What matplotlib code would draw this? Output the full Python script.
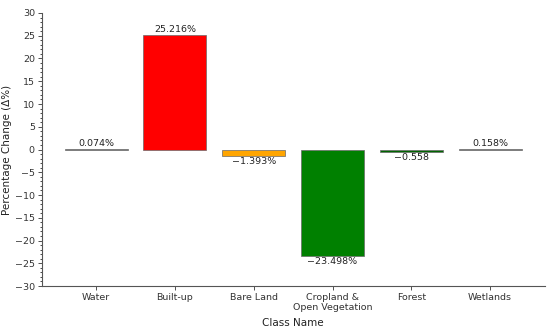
import matplotlib.pyplot as plt
from matplotlib.ticker import MultipleLocator

# Land cover classes and their percentage change
classes = ["Water", "Built-up", "Bare Land", "Cropland &\nOpen Vegetation", "Forest", "Wetlands"]
changes = [0.074, 25.216, -1.393, -23.498, -0.558, 0.158]
labels = ["0.074%", "25.216%", "\u22121.393%", "\u221223.498%", "\u22120.558", "0.158%"]
colors = ["dimgray", "red", "orange", "green", "darkgreen", "dimgray"]

fig = plt.figure(figsize=(5.5, 3.33), dpi=100)
ax = fig.add_axes([0.076, 0.141, 0.914, 0.820])

bars = ax.bar(classes, changes, width=0.8, color=colors, edgecolor="dimgray", linewidth=0.5)

# value labels above positive bars, below negative ones
for b, v, t in zip(bars, changes, labels):
    x = b.get_x() + b.get_width() / 2
    if v >= 0:
        ax.annotate(t, (x, v), xytext=(0, 0.5), textcoords="offset points",
                    ha="center", va="bottom", fontsize=6.8, color="#222222")
    else:
        ax.annotate(t, (x, v), xytext=(0, -0.5), textcoords="offset points",
                    ha="center", va="top", fontsize=6.8, color="#222222")

ax.set_ylim(-30, 30)
ax.yaxis.set_major_locator(MultipleLocator(5))
ax.yaxis.set_minor_locator(MultipleLocator(1))
ax.tick_params(axis="both", labelsize=6.8, colors="#333333", length=3, width=0.6, pad=2)
ax.tick_params(axis="y", which="minor", length=1.5, width=0.5)

ax.set_xlabel("Class Name", fontsize=7.5, color="#222222", labelpad=4)
ax.set_ylabel("Percentage Change (\u0394%)", fontsize=7.5, color="#222222", labelpad=2)

ax.spines["top"].set_visible(False)
ax.spines["right"].set_visible(False)
for s in ["left", "bottom"]:
    ax.spines[s].set_color("#555555")
    ax.spines[s].set_linewidth(0.8)

fig.savefig("out.png", dpi=100)
